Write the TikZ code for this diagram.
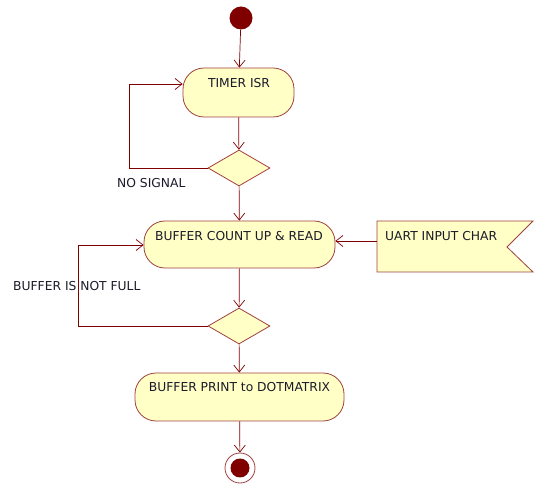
\documentclass[tikz,border=0pt]{standalone}
\usepackage{fontspec}
\setmainfont{DejaVu Sans}
\usetikzlibrary{arrows.meta,shapes.geometric}
\definecolor{umlfill}{HTML}{FFFFC6}
\definecolor{umlborder}{HTML}{A04040}
\definecolor{umlline}{HTML}{800000}
\definecolor{umltext}{HTML}{1A1A2A}
\tikzset{
  activity/.style={draw=umlborder, fill=umlfill, line width=0.8pt, rectangle,
    rounded corners=21pt, inner sep=0pt},
  decision/.style={draw=umlborder, fill=umlfill, line width=0.8pt, diamond,
    minimum width=62pt, minimum height=36pt, inner sep=0pt},
  flow/.style={draw=umlline, line width=0.7pt,
    -{Straight Barb[length=7pt,width=11pt,line width=0.7pt]}},
  lbl/.style={text=umltext, font=\fontsize{12.3}{14}\selectfont, inner sep=0pt},
}
\begin{document}
\begin{tikzpicture}[x=1pt,y=-1pt]
  \useasboundingbox (0,0) rectangle (536,486);

  % start / end
  \node[circle, fill=umlline, minimum size=23pt, inner sep=0pt] (start) at (241,18) {};
  \node[circle, draw=umlborder, fill=white, line width=0.8pt, minimum size=30pt, inner sep=0pt] (final) at (240,468) {};
  \node[circle, fill=umlline, minimum size=19pt, inner sep=0pt] (finaldot) at (240,468) {};

  % activities
  \node[activity, minimum width=111pt, minimum height=49pt] (timer) at (238.5,92.5) {};
  \node[lbl] (timertxt) at (239,83) {TIMER ISR};

  \node[activity, minimum width=191pt, minimum height=47pt] (count) at (239.5,244.5) {};
  \node[lbl] (counttxt) at (239,236) {BUFFER COUNT UP \& READ};

  \node[activity, minimum width=209pt, minimum height=48pt] (print) at (239.5,397) {};
  \node[lbl] (printtxt) at (239.5,387) {BUFFER PRINT to DOTMATRIX};

  % decisions
  \node[decision] (d1) at (239,168) {};
  \node[decision] (d2) at (239,326) {};

  % signal receipt
  \draw[umlborder, fill=umlfill, line width=0.8pt]
    (377,221) -- (533,221) -- (507,247) -- (533,272) -- (377,272) -- cycle;
  \coordinate (uart) at (377,241);
  \node[lbl, anchor=west] (uarttxt) at (385,236) {UART INPUT CHAR};

  % flows
  \draw[flow] (start) -- (timer);
  \draw[flow] (timer) -- (d1);
  \draw[flow] (d1) -- (count);
  \draw[flow] (count) -- (d2);
  \draw[flow] (d2) -- (print);
  \draw[flow] (print) -- (final);
  \draw[flow] (uart) -- (count.east |- uart);

  \draw[flow] (d1.west) -- (129,168) -- (129,84) -- (timer.west |- 0,84);
  \draw[flow] (d2.west) -- (78,326) -- (78,245) -- (count.west |- 0,245);

  % guards
  \node[lbl, anchor=west] (g1) at (117,183) {NO SIGNAL};
  \node[lbl, anchor=west] (g2) at (13,286) {BUFFER IS NOT FULL};
\end{tikzpicture}
\end{document}
